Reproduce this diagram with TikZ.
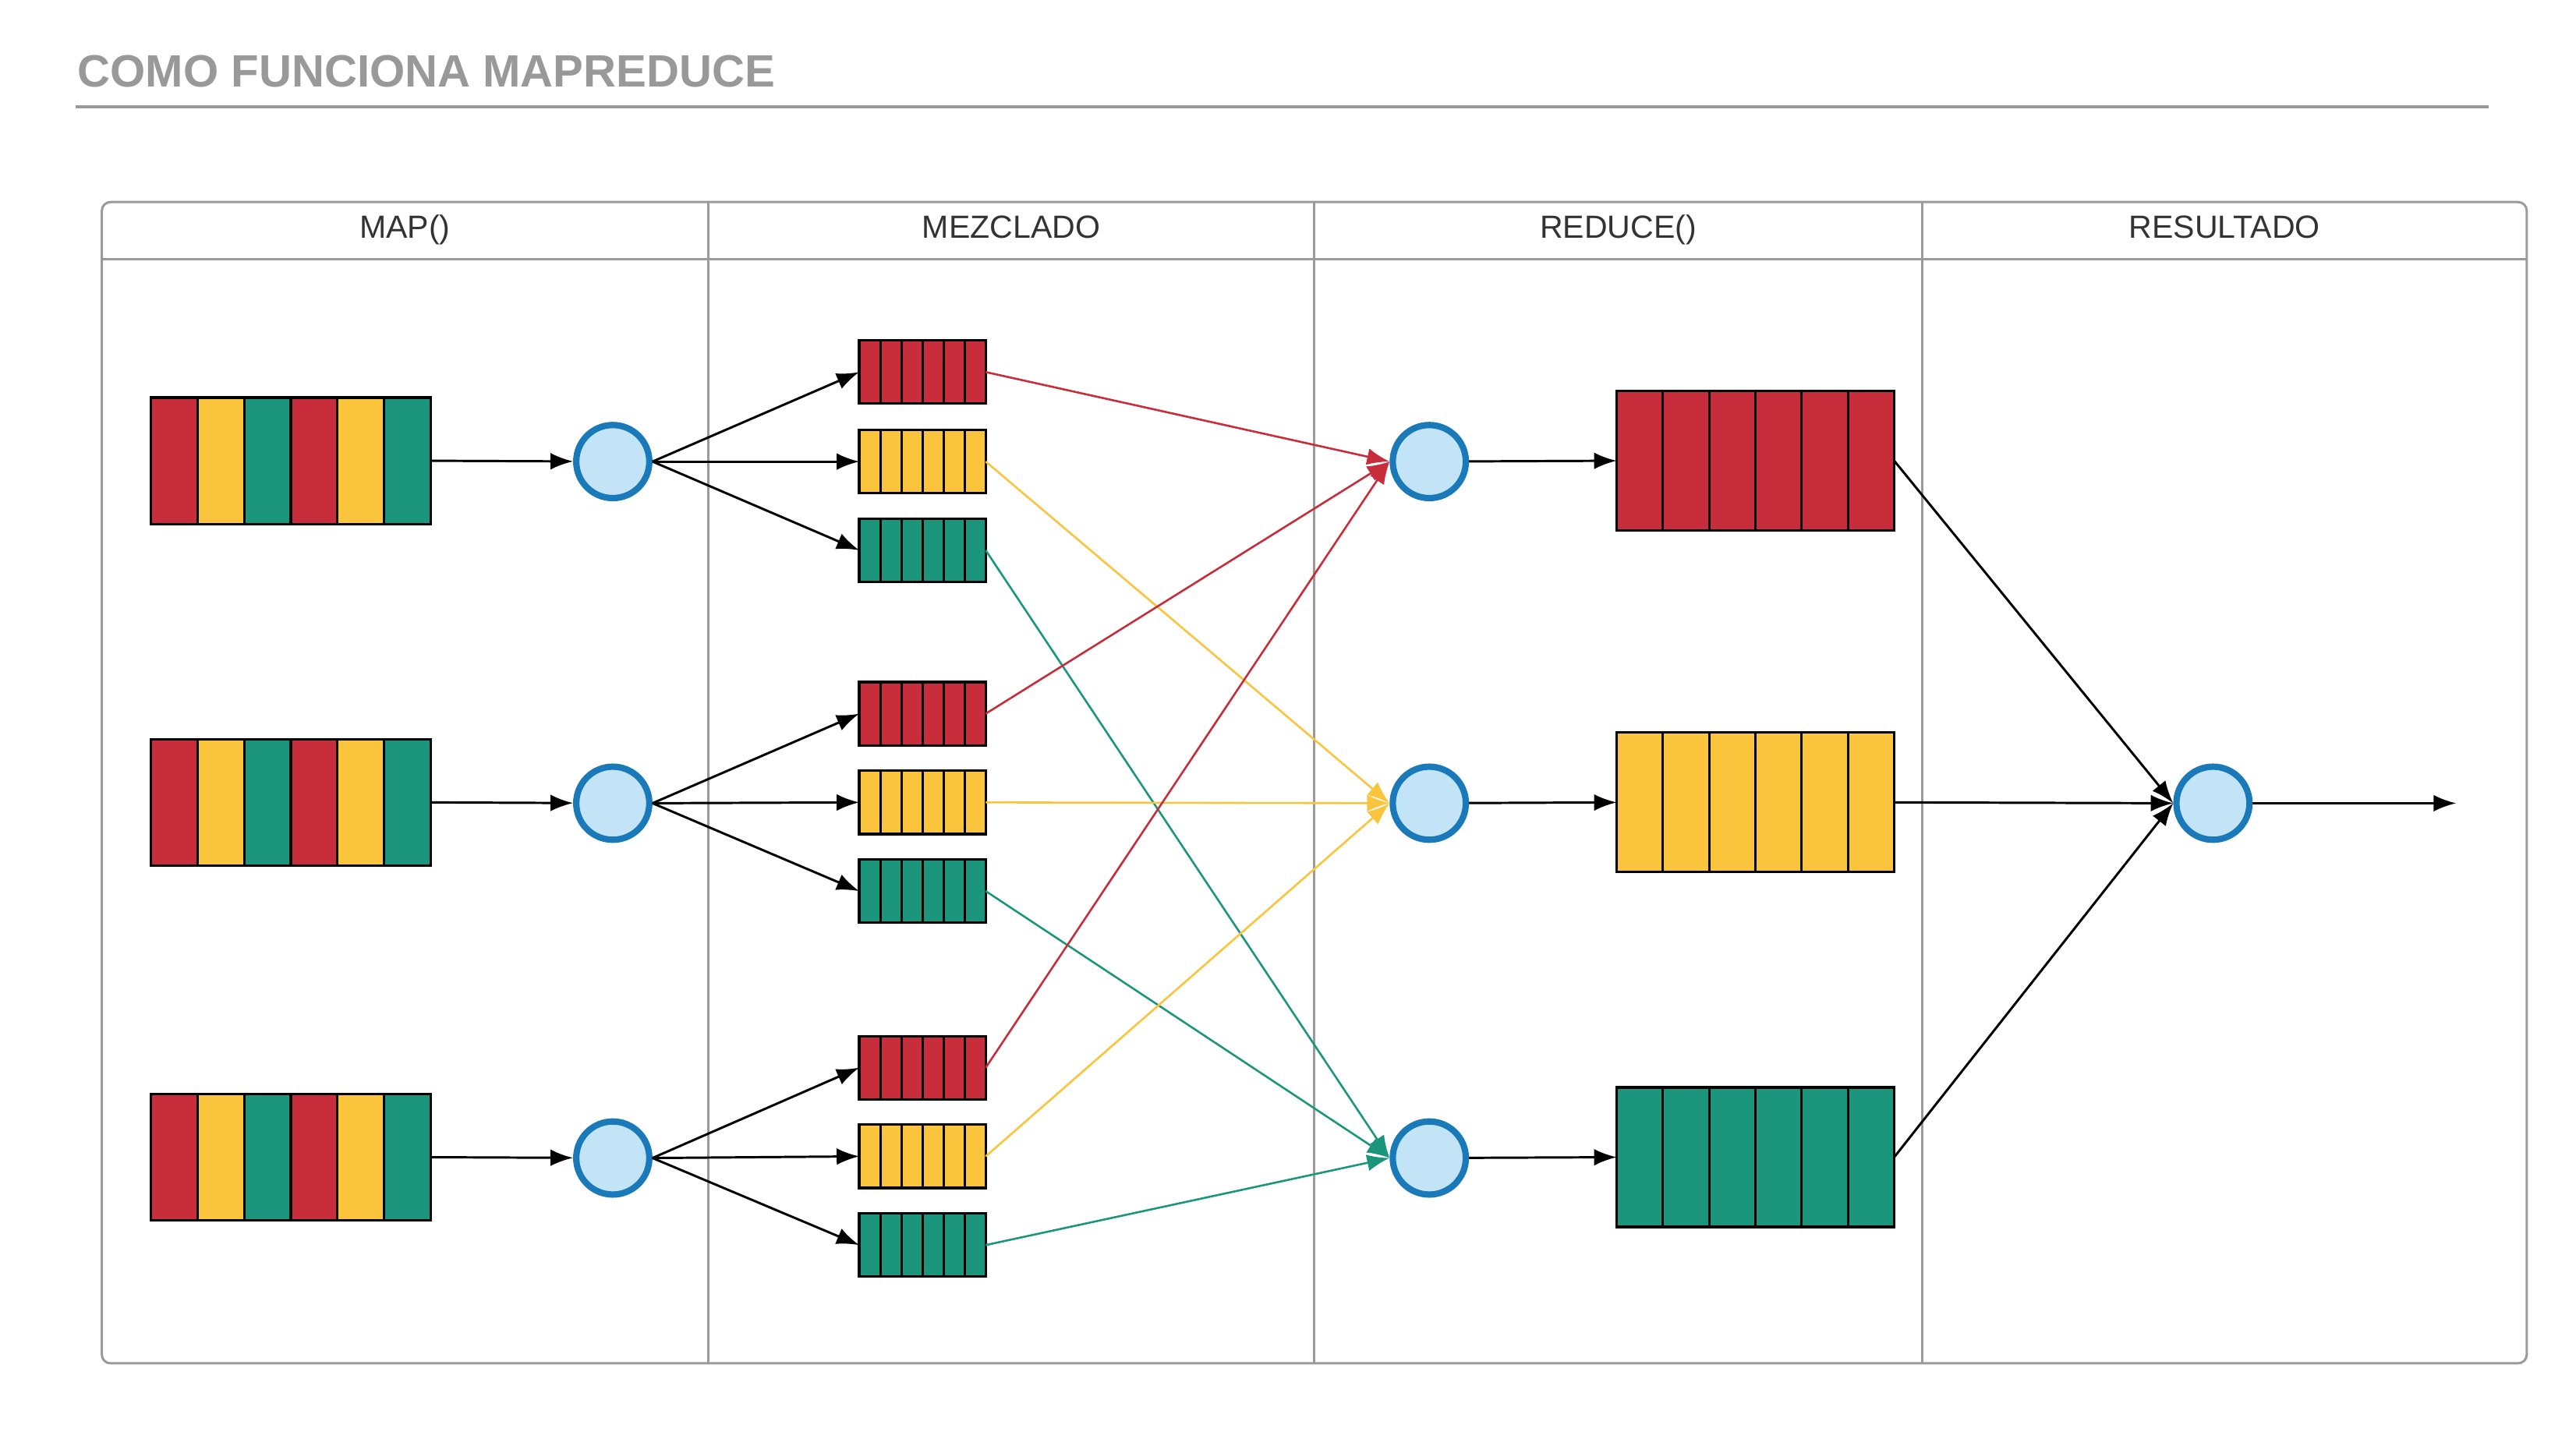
\documentclass[tikz,border=0pt]{standalone}
\usepackage{fontspec}
\setmainfont{Liberation Sans}
\usetikzlibrary{arrows.meta,calc}
\definecolor{cr}{HTML}{C72D3A}
\definecolor{cy}{HTML}{FAC43C}
\definecolor{cg}{HTML}{1B967C}
\definecolor{cb}{HTML}{1A7AB9}
\definecolor{cbf}{HTML}{C2E4F6}
\definecolor{lanec}{HTML}{9A9A9A}
\definecolor{ttlc}{HTML}{999999}
\definecolor{hdrc}{HTML}{333333}
\tikzset{
  stripe/.style={draw=black,line width=0.85pt},
  blk/.style={rectangle,draw=black,line width=0.85pt,inner sep=0pt,outer sep=0pt},
  inbox/.style={blk,minimum width=3.4cm,minimum height=1.54cm},
  qbox/.style={blk,minimum width=1.54cm,minimum height=0.77cm},
  bigbox/.style={blk,minimum width=3.38cm,minimum height=1.7cm},
  proc/.style={circle,draw=cb,fill=cbf,line width=2.2pt,minimum size=0.89cm,inner sep=0pt},
  arr/.style={-{Latex[length=7.8pt,width=5.8pt]},line width=0.8pt,black},
  carr/.style={-{Latex[length=7.8pt,width=5.8pt]},line width=0.7pt,draw=#1},
  lane/.style={draw=lanec,line width=0.8pt},
  hdr/.style={text=hdrc,font=\fontsize{11.1pt}{13pt}\selectfont,anchor=base,inner sep=0pt},
}
\newcommand\mkstripes[4]{%
  \foreach \c [count=\i from 0] in {#4}
    \filldraw[fill=\c,stripe] ($(#1.south west)+(\i*#2,0)$) rectangle ++(#2,-#3);}
\begin{document}
\begin{tikzpicture}[x=0.02cm,y=-0.02cm]
\useasboundingbox (0,0) rectangle (1568,884.6);
% title
\node[anchor=base west,inner sep=0pt,text=ttlc,font=\fontsize{15.7pt}{19pt}\selectfont\bfseries] (title) at (47,53) {COMO FUNCIONA MAPREDUCE};
\draw[draw=ttlc,line width=0.9pt] (46,65) -- (1515,65);
% lanes
\draw[lane,rounded corners=3pt] (62,123) rectangle (1538,830);
\draw[lane] (62,158) -- (1538,158);
\draw[lane] (431,123) -- (431,830);
\draw[lane] (800,123) -- (800,830);
\draw[lane] (1170,123) -- (1170,830);
\node[hdr] (hmap) at (246.5,145) {MAP()};
\node[hdr] (hmez) at (615.5,145) {MEZCLADO};
\node[hdr] (hred) at (985,145) {REDUCE()};
\node[hdr] (hres) at (1354,145) {RESULTADO};
% input blocks
\node[inbox] (in1) at (177,280.5) {};
\node[inbox] (in2) at (177,488.5) {};
\node[inbox] (in3) at (177,704.5) {};
\mkstripes{in1}{28.333}{77}{cr,cy,cg,cr,cy,cg}
\mkstripes{in2}{28.333}{77}{cr,cy,cg,cr,cy,cg}
\mkstripes{in3}{28.333}{77}{cr,cy,cg,cr,cy,cg}
% map circles
\node[proc] (m1) at (373,281) {};
\node[proc] (m2) at (373,489) {};
\node[proc] (m3) at (373,705) {};
% small queues
\node[qbox] (q1r) at (561.5,226.5) {};
\node[qbox] (q1y) at (561.5,281) {};
\node[qbox] (q1g) at (561.5,335) {};
\node[qbox] (q2r) at (561.5,434.5) {};
\node[qbox] (q2y) at (561.5,488.5) {};
\node[qbox] (q2g) at (561.5,542.5) {};
\node[qbox] (q3r) at (561.5,650) {};
\node[qbox] (q3y) at (561.5,704) {};
\node[qbox] (q3g) at (561.5,758) {};
\foreach \n in {1,2,3}{
  \mkstripes{q\n r}{12.833}{38.5}{cr,cr,cr,cr,cr,cr}
  \mkstripes{q\n y}{12.833}{38.5}{cy,cy,cy,cy,cy,cy}
  \mkstripes{q\n g}{12.833}{38.5}{cg,cg,cg,cg,cg,cg}
}
% reduce circles
\node[proc] (r1) at (870,281) {};
\node[proc] (r2) at (870,489) {};
\node[proc] (r3) at (870,705) {};
% big blocks
\node[bigbox] (b1) at (1068.5,280.5) {};
\node[bigbox] (b2) at (1068.5,488.5) {};
\node[bigbox] (b3) at (1068.5,704.5) {};
\mkstripes{b1}{28.167}{85}{cr,cr,cr,cr,cr,cr}
\mkstripes{b2}{28.167}{85}{cy,cy,cy,cy,cy,cy}
\mkstripes{b3}{28.167}{85}{cg,cg,cg,cg,cg,cg}
% result
\node[proc] (res) at (1347,489) {};
\coordinate (out) at (1495,489);
% connectors: map
\foreach \n in {1,2,3}{
  \draw[arr] (in\n.east) -- (m\n);
  \draw[arr] (m\n.east) -- (q\n r.west);
  \draw[arr] (m\n.east) -- (q\n y.west);
  \draw[arr] (m\n.east) -- (q\n g.west);
}
% shuffle
\foreach \n in {1,2,3}{
  \draw[carr=cr] (q\n r.east) -- (r1.west);
  \draw[carr=cy] (q\n y.east) -- (r2.west);
  \draw[carr=cg] (q\n g.east) -- (r3.west);
}
% reduce
\draw[arr] (r1) -- (b1.west);
\draw[arr] (r2) -- (b2.west);
\draw[arr] (r3) -- (b3.west);
\draw[arr] (b1.east) -- (res.west);
\draw[arr] (b2.east) -- (res.west);
\draw[arr] (b3.east) -- (res.west);
\draw[arr] (res.east) -- (out);
\end{tikzpicture}
\end{document}
